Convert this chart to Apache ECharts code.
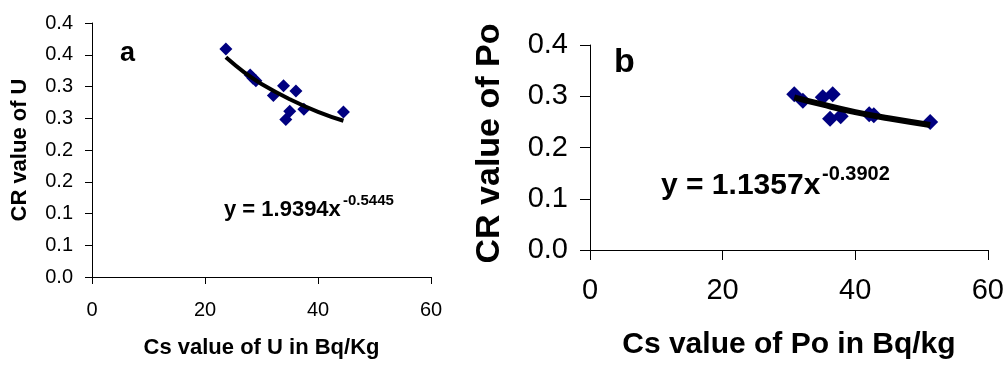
<!DOCTYPE html>
<html>
<head>
<meta charset="utf-8">
<script src="https://cdn.jsdelivr.net/npm/echarts@6/dist/echarts.min.js"></script>
<style>
html,body{margin:0;padding:0;background:#fff;}
#chart{width:1007px;height:365px;}
</style>
</head>
<body>
<div id="chart"></div>
<script>
// ---- Data ----
var csU = [23.7, 28.0, 28.5, 29.0, 32.1, 33.9, 36.1, 35.0, 34.3, 37.5, 44.5];
var crU = [0.359, 0.318, 0.313, 0.309, 0.286, 0.301, 0.293, 0.261, 0.248, 0.264, 0.260];
var trendUx = [23.7, 27, 30, 35, 40, 44.5];
var trendUy = [0.346, 0.322, 0.304, 0.280, 0.260, 0.246];

var csPo = [30.8, 32.1, 35.1, 36.6, 36.2, 37.8, 42.1, 42.8, 51.3];
var crPo = [0.304, 0.291, 0.298, 0.304, 0.256, 0.261, 0.265, 0.263, 0.250];
var trendPox = [30.8, 35, 40, 45, 51.3];
var trendPoy = [0.298, 0.284, 0.269, 0.257, 0.244];

var yTickLabelsA = ['0.0', '0.1', '0.1', '0.2', '0.2', '0.3', '0.3', '0.4', '0.4'];
var yTickLabelsB = ['0.0', '0.1', '0.2', '0.3', '0.4'];
var xTickLabels = ['0', '20', '40', '60'];

var eqA = ['y = 1.9394x', '-0.5445'];
var eqB = ['y = 1.1357x', '-0.3902'];

function pairs(xs, ys) { return xs.map(function (x, i) { return [x, ys[i]]; }); }

var FF = '"Liberation Sans", Arial, Helvetica, sans-serif';
var chart = echarts.init(document.getElementById('chart'), null, {renderer: 'canvas'});

function axisCommon(tickLen) {
  return {
    axisLine: {show: true, onZero: false, lineStyle: {color: '#000', width: 1}},
    axisTick: {show: true, inside: false, length: tickLen, lineStyle: {color: '#000', width: 1}},
    splitLine: {show: false}
  };
}

var option = {
  backgroundColor: '#fff',
  animation: false,
  grid: [
    {left: 92, right: 576, top: 23, bottom: 88, containLabel: false},
    {left: 590, right: 17.7, top: 45, bottom: 111.7, containLabel: false}
  ],
  xAxis: [
    Object.assign({
      gridIndex: 0, type: 'value', min: 0, max: 60, interval: 20,
      name: 'Cs value of U in Bq/Kg', nameLocation: 'middle', nameGap: 60,
      nameTextStyle: {fontFamily: FF, fontSize: 22, fontWeight: 'bold', color: '#000'},
      axisLabel: {margin: 23, fontFamily: FF, fontSize: 20, color: '#000',
        formatter: function (v) { return xTickLabels[Math.round(v / 20)]; }}
    }, axisCommon(7)),
    Object.assign({
      gridIndex: 1, type: 'value', min: 0, max: 60, interval: 20,
      name: 'Cs value of Po in Bq/kg', nameLocation: 'middle', nameGap: 80,
      nameTextStyle: {fontFamily: FF, fontSize: 30, fontWeight: 'bold', color: '#000'},
      axisLabel: {margin: 26, fontFamily: FF, fontSize: 29, color: '#000',
        formatter: function (v) { return xTickLabels[Math.round(v / 20)]; }}
    }, axisCommon(10))
  ],
  yAxis: [
    Object.assign({
      gridIndex: 0, type: 'value', min: 0, max: 0.4, interval: 0.05,
      name: 'CR value of U', nameLocation: 'middle', nameGap: 61,
      nameTextStyle: {fontFamily: FF, fontSize: 22, fontWeight: 'bold', color: '#000'},
      axisLabel: {margin: 19, fontFamily: FF, fontSize: 20, color: '#000',
        formatter: function (v) { return yTickLabelsA[Math.round(v / 0.05)]; }}
    }, axisCommon(7)),
    Object.assign({
      gridIndex: 1, type: 'value', min: 0, max: 0.4, interval: 0.1,
      name: 'CR value of Po', nameLocation: 'middle', nameGap: 83,
      nameTextStyle: {fontFamily: FF, fontSize: 34, fontWeight: 'bold', color: '#000', padding: [0, 0, 0, 8]},
      axisLabel: {margin: 22, fontFamily: FF, fontSize: 29, color: '#000',
        formatter: function (v) { return yTickLabelsB[Math.round(v / 0.1)]; }}
    }, axisCommon(10))
  ],
  series: [
    {type: 'scatter', xAxisIndex: 0, yAxisIndex: 0, symbol: 'diamond', symbolSize: 13,
     itemStyle: {color: '#000080', opacity: 1}, data: pairs(csU, crU), z: 2},
    {type: 'line', xAxisIndex: 0, yAxisIndex: 0, smooth: true, showSymbol: false, symbol: 'none',
     lineStyle: {color: '#000', width: 4}, data: pairs(trendUx, trendUy), z: 3},
    {type: 'scatter', xAxisIndex: 1, yAxisIndex: 1, symbol: 'diamond', symbolSize: 16,
     itemStyle: {color: '#000080', opacity: 1}, data: pairs(csPo, crPo), z: 2},
    {type: 'line', xAxisIndex: 1, yAxisIndex: 1, smooth: true, showSymbol: false, symbol: 'none',
     lineStyle: {color: '#000', width: 6}, data: pairs(trendPox, trendPoy), z: 3}
  ],
  graphic: [
    {type: 'text', left: 120, top: 40, style: {text: 'a', font: 'bold 27px ' + FF, fill: '#000'}},
    {type: 'text', left: 614, top: 46, style: {text: 'b', font: 'bold 34px ' + FF, fill: '#000'}},
    {type: 'text', left: 224, top: 199, style: {text: eqA[0], font: 'bold 22px ' + FF, fill: '#000'}},
    {type: 'text', left: 343, top: 193, style: {text: eqA[1], font: 'bold 15px ' + FF, fill: '#000'}},
    {type: 'text', left: 661, top: 171, style: {text: eqB[0], font: 'bold 30px ' + FF, fill: '#000'}},
    {type: 'text', left: 822, top: 164, style: {text: eqB[1], font: 'bold 20px ' + FF, fill: '#000'}}
  ]
};
chart.setOption(option);
</script>
</body>
</html>
